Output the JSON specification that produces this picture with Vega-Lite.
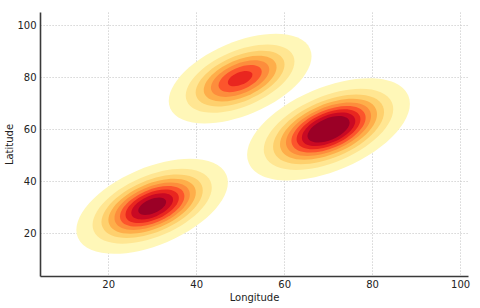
{
  "$schema": "https://vega.github.io/schema/vega-lite/v6.json",
  "width": 428,
  "height": 264,
  "autosize": {"type": "none"},
  "padding": {"left": 40, "top": 12, "right": 12, "bottom": 32},
  "background": "white",
  "config": {
    "view": {"stroke": null},
    "font": "DejaVu Sans",
    "axis": {
      "labelFont": "DejaVu Sans",
      "titleFont": "DejaVu Sans",
      "labelFontSize": 10,
      "titleFontSize": 10,
      "titleFontWeight": "normal",
      "labelColor": "#222222",
      "titleColor": "#222222",
      "ticks": false,
      "grid": true,
      "gridColor": "#c4c4c4",
      "gridDash": [1.2, 1.8],
      "gridWidth": 0.9,
      "domainColor": "#3a3a3a",
      "domainWidth": 1.6,
      "zindex": 1
    }
  },
  "data": {
    "values": [
      {"blob": 1, "lon": 30, "lat": 30.3, "level": 0, "r": 18.32},
      {"blob": 1, "lon": 30, "lat": 30.3, "level": 1, "r": 14.42},
      {"blob": 1, "lon": 30, "lat": 30.3, "level": 2, "r": 12.24},
      {"blob": 1, "lon": 30, "lat": 30.3, "level": 3, "r": 10.57},
      {"blob": 1, "lon": 30, "lat": 30.3, "level": 4, "r": 9.12},
      {"blob": 1, "lon": 30, "lat": 30.3, "level": 5, "r": 7.79},
      {"blob": 1, "lon": 30, "lat": 30.3, "level": 6, "r": 6.45},
      {"blob": 1, "lon": 30, "lat": 30.3, "level": 7, "r": 5.06},
      {"blob": 1, "lon": 30, "lat": 30.3, "level": 8, "r": 3.37},
      {"blob": 2, "lon": 50, "lat": 79.4, "level": 0, "r": 17.27},
      {"blob": 2, "lon": 50, "lat": 79.4, "level": 1, "r": 13.14},
      {"blob": 2, "lon": 50, "lat": 79.4, "level": 2, "r": 10.74},
      {"blob": 2, "lon": 50, "lat": 79.4, "level": 3, "r": 8.81},
      {"blob": 2, "lon": 50, "lat": 79.4, "level": 4, "r": 7.05},
      {"blob": 2, "lon": 50, "lat": 79.4, "level": 5, "r": 5.23},
      {"blob": 2, "lon": 50, "lat": 79.4, "level": 6, "r": 2.97},
      {"blob": 3, "lon": 70.1, "lat": 59.9, "level": 0, "r": 19.68},
      {"blob": 3, "lon": 70.1, "lat": 59.9, "level": 1, "r": 15.65},
      {"blob": 3, "lon": 70.1, "lat": 59.9, "level": 2, "r": 13.42},
      {"blob": 3, "lon": 70.1, "lat": 59.9, "level": 3, "r": 11.73},
      {"blob": 3, "lon": 70.1, "lat": 59.9, "level": 4, "r": 10.29},
      {"blob": 3, "lon": 70.1, "lat": 59.9, "level": 5, "r": 8.97},
      {"blob": 3, "lon": 70.1, "lat": 59.9, "level": 6, "r": 7.71},
      {"blob": 3, "lon": 70.1, "lat": 59.9, "level": 7, "r": 6.46},
      {"blob": 3, "lon": 70.1, "lat": 59.9, "level": 8, "r": 5.10}
    ]
  },
  "mark": {
    "type": "point",
    "filled": true,
    "opacity": 1,
    "strokeWidth": 0,
    "angle": -23,
    "shape": "M -1 0 A 1 0.48 0 1 1 1 0 A 1 0.48 0 1 1 -1 0 Z"
  },
  "encoding": {
    "x": {
      "field": "lon",
      "type": "quantitative",
      "title": "Longitude",
      "scale": {"domain": [4.5, 101.8], "nice": false, "zero": false},
      "axis": {"values": [20, 40, 60, 80, 100], "labelPadding": 3, "titlePadding": 3}
    },
    "y": {
      "field": "lat",
      "type": "quantitative",
      "title": "Latitude",
      "scale": {"domain": [3.5, 105], "nice": false, "zero": false},
      "axis": {"values": [20, 40, 60, 80, 100], "labelPadding": 4, "titlePadding": 2}
    },
    "size": {
      "field": "r",
      "type": "quantitative",
      "scale": {"type": "pow", "exponent": 2, "domain": [0, 20], "range": [0, 30976]},
      "legend": null
    },
    "color": {
      "field": "level",
      "type": "ordinal",
      "scale": {
        "domain": [0, 1, 2, 3, 4, 5, 6, 7, 8],
        "range": ["#fff7b8", "#ffe692", "#fed06d", "#feae4a", "#fd8d3c", "#fc552c", "#e9261f", "#ca0923", "#9b0026"]
      },
      "legend": null
    },
    "order": {"field": "r", "sort": "descending"}
  }
}
